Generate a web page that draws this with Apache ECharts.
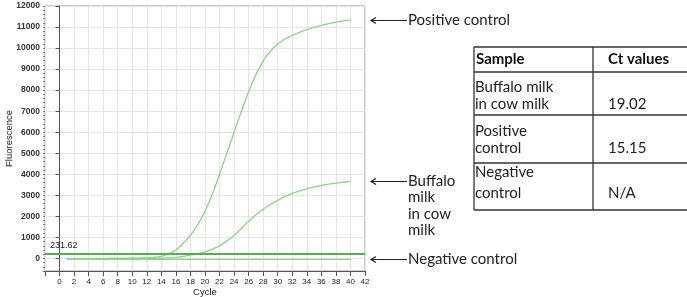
<!DOCTYPE html>
<html>
<head>
<meta charset="utf-8">
<script src="https://cdn.jsdelivr.net/npm/echarts@6/dist/echarts.min.js"></script>
<style>
  html, body { margin: 0; padding: 0; background: #fff; }
  #chart { width: 687px; height: 297px; }
</style>
</head>
<body>
<div id="chart"></div>
<script>
// amplification data
const cycles = [1, 2, 3, 4, 5, 6, 7, 8, 9, 10, 11, 12, 13, 14, 15, 16, 17, 18, 19, 20,
  21, 22, 23, 24, 25, 26, 27, 28, 29, 30, 31, 32, 33, 34, 35, 36, 37, 38, 39, 40]
const positiveControl = [-20, -15, -10, -10, -5, 0, 0, 5, 5, 10, 15, 25, 50, 100, 210, 400, 720, 1100, 1600, 2250,
  3050, 4000, 5000, 6000, 6980, 7930, 8730, 9380, 9860, 10190, 10430, 10610, 10750, 10870, 10980, 11080, 11160, 11230, 11290, 11340]
const buffaloInCowMilk = [-20, -20, -15, -15, -10, -10, -5, -5, 0, 0, 0, 5, 5, 10, 20, 50, 90, 150, 225, 310,
  440, 600, 820, 1100, 1420, 1760, 2070, 2330, 2560, 2760, 2940, 3090, 3210, 3310, 3400, 3470, 3530, 3580, 3620, 3660]
const negativeControl = [-20, -30, -35, -40, -40, -45, -45, -45, -50, -50, -50, -50, -50, -50, -50, -50, -50, -50, -50, -50,
  -50, -50, -50, -50, -50, -50, -50, -50, -50, -50, -50, -50, -50, -50, -50, -50, -50, -50, -50, -50]
const threshold = 231.62

const yTickValues = [0, 1000, 2000, 3000, 4000, 5000, 6000, 7000, 8000, 9000, 10000, 11000, 12000]
const curveNames = ['Positive control', 'Buffalo milk in cow milk', 'Negative control']
const curveNotes = ['Positive control', 'Buffalo\nmilk\nin cow\nmilk', 'Negative control']

// Ct table
const tableHeader = ['Sample', 'Ct values']
const tableSamples = [['Buffalo milk', 'in cow milk'], ['Positive', 'control'], ['Negative', 'control']]
const tableCt = ['19.02', '15.15', 'N/A']

const curveColor = '#8fd18a'
const threshColor = '#5aab5a'
const textFont = 'Lato, "Noto Sans", sans-serif'
const axisFont = 'Liberation Sans, Arial'

const chart = echarts.init(document.getElementById('chart'))

const toPairs = (vals) => cycles.map((c, i) => [c, vals[i]])

const option = {
  animation: false,
  grid: {
    left: 45,
    right: 322,
    top: 6,
    bottom: 26,
    show: true,
    borderColor: '#999',
    borderWidth: 1,
    outerBoundsMode: 'none'
  },
  xAxis: {
    type: 'value',
    min: -2,
    max: 42,
    interval: 2,
    name: 'Cycle',
    nameLocation: 'middle',
    nameGap: 16,
    nameMoveOverlap: false,
    nameTextStyle: { fontSize: 9.5, color: '#222', fontFamily: axisFont },
    axisLine: { onZero: false, lineStyle: { color: '#555' } },
    axisTick: { length: 5, lineStyle: { color: '#555' } },
    axisLabel: {
      fontSize: 8,
      color: '#222',
      margin: 7,
      fontFamily: axisFont,
      hideOverlap: false,
      formatter: v => (v < 0 ? '' : String(v))
    },
    splitLine: { show: true, lineStyle: { color: '#e4e4e4', width: 1 } }
  },
  yAxis: [
    {
      type: 'value',
      min: -600,
      max: 12000,
      name: 'Fluorescence',
      nameLocation: 'middle',
      nameGap: 31,
      nameMoveOverlap: false,
      nameTextStyle: { fontSize: 9.5, color: '#222', fontFamily: axisFont },
      axisLine: { show: true, lineStyle: { color: '#555' } },
      axisTick: { show: true, length: 4, customValues: yTickValues, lineStyle: { color: '#555' } },
      axisLabel: {
        fontSize: 8.5,
        color: '#333',
        margin: 5,
        fontWeight: 'bold',
        fontFamily: axisFont,
        customValues: yTickValues,
        formatter: v => String(v)
      },
      splitLine: { show: true, lineStyle: { color: '#e4e4e4', width: 1 } }
    },
    {
      // minor ticks
      type: 'value',
      min: -600,
      max: 12000,
      interval: 200,
      position: 'left',
      axisLine: { show: false },
      axisTick: { show: true, length: 2, lineStyle: { color: '#777' } },
      axisLabel: { show: false },
      splitLine: { show: false }
    }
  ],
  series: [
    {
      name: curveNames[0],
      type: 'line',
      data: toPairs(positiveControl),
      smooth: true,
      showSymbol: false,
      lineStyle: { color: curveColor, width: 1.3 }
    },
    {
      name: curveNames[1],
      type: 'line',
      data: toPairs(buffaloInCowMilk),
      smooth: true,
      showSymbol: false,
      lineStyle: { color: curveColor, width: 1.3 }
    },
    {
      name: curveNames[2],
      type: 'line',
      data: toPairs(negativeControl),
      smooth: true,
      showSymbol: false,
      lineStyle: { color: curveColor, width: 1.3 },
      markLine: {
        silent: true,
        symbol: 'none',
        data: [{ yAxis: threshold }],
        lineStyle: { color: threshColor, width: 2, type: 'solid' },
        label: {
          show: true,
          position: 'insideStartTop',
          distance: [5, 3],
          formatter: String(threshold),
          fontSize: 9,
          color: '#222',
          fontFamily: axisFont
        }
      }
    }
  ]
}

chart.setOption(option)

// arrows + notes pointing at curve ends, then the Ct table
const lastVals = [positiveControl, buffaloInCowMilk, negativeControl].map(a => a[a.length - 1])
const graphics = []
lastVals.forEach((v, i) => {
  const y = Math.round(chart.convertToPixel({ gridIndex: 0 }, [40, v])[1]) + 0.5
  graphics.push({
    type: 'line',
    shape: { x1: 371, y1: y, x2: 407, y2: y },
    style: { stroke: '#222', lineWidth: 1 }
  })
  graphics.push({
    type: 'polyline',
    shape: { points: [[376, y - 3], [371, y], [376, y + 3]] },
    style: { stroke: '#222', lineWidth: 1.2, fill: null }
  })
  graphics.push({
    type: 'text',
    x: 408,
    y: y - 9,
    style: {
      text: curveNotes[i],
      font: '15px ' + textFont,
      fill: '#222',
      lineHeight: 16.5,
      verticalAlign: 'top'
    }
  })
})

const tLeft = 474, tMid = 593, tRight = 700
const rowLines = [47, 72, 115, 163, 210]
rowLines.forEach(y => {
  graphics.push({ type: 'line', shape: { x1: tLeft, y1: y, x2: tRight, y2: y }, style: { stroke: '#333', lineWidth: 1.3 } })
})
graphics.push({ type: 'line', shape: { x1: tLeft, y1: rowLines[0], x2: tLeft, y2: rowLines[4] }, style: { stroke: '#333', lineWidth: 1.3 } })
graphics.push({ type: 'line', shape: { x1: tMid, y1: rowLines[0], x2: tMid, y2: rowLines[4] }, style: { stroke: '#333', lineWidth: 1.3 } })

graphics.push({ type: 'text', x: tLeft + 2, y: 59, style: { text: tableHeader[0], font: 'bold 15px ' + textFont, fill: '#111', verticalAlign: 'middle' } })
graphics.push({ type: 'text', x: tMid + 15, y: 59, style: { text: tableHeader[1], font: 'bold 15px ' + textFont, fill: '#111', verticalAlign: 'middle' } })
const rowTextY = [[87, 104.5], [131.5, 148.5], [172, 193]]
tableSamples.forEach((lines, r) => {
  lines.forEach((t, k) => {
    graphics.push({ type: 'text', x: tLeft + 1, y: rowTextY[r][k], style: { text: t, font: '15px ' + textFont, fill: '#222', verticalAlign: 'middle' } })
  })
  graphics.push({ type: 'text', x: tMid + 15, y: rowTextY[r][1], style: { text: tableCt[r], font: '15px ' + textFont, fill: '#222', verticalAlign: 'middle' } })
})

chart.setOption({ graphic: graphics })
</script>
</body>
</html>
